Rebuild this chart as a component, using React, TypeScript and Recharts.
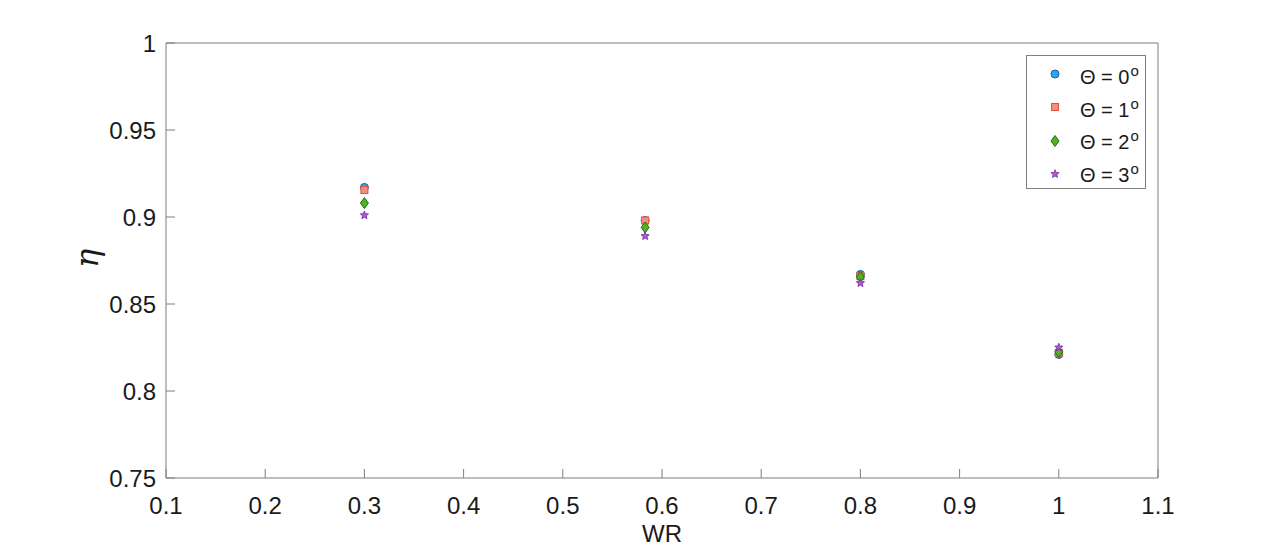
import { ScatterChart, Scatter, XAxis, YAxis, Text } from 'recharts'

const wr = [0.3, 0.583, 0.8, 1.0]
const eta0 = [0.917, 0.898, 0.867, 0.821]
const eta1 = [0.9155, 0.898, 0.866, 0.822]
const eta2 = [0.908, 0.894, 0.8655, 0.8225]
const eta3 = [0.901, 0.889, 0.862, 0.825]
const xTicks = [0.1, 0.2, 0.3, 0.4, 0.5, 0.6, 0.7, 0.8, 0.9, 1, 1.1]
const yTicks = [0.75, 0.8, 0.85, 0.9, 0.95, 1]
const angles = ['0', '1', '2', '3']

const AXIS = '#7f7f7f'
const TXT = '#1a1a1a'
const FONT = '"Liberation Sans", Arial, sans-serif'
const TL = 9

const toPts = (ys: number[]) => wr.map((x, i) => ({ x, y: ys[i] }))

const Circle = ({ cx, cy }: any) => <circle cx={cx} cy={cy} r={4} fill="#2ba6ec" stroke="#1b5f9e" strokeWidth={1} />
const Square = ({ cx, cy }: any) => <rect x={cx - 3.5} y={cy - 3.5} width={7} height={7} fill="#f88c7a" stroke="#e0553a" strokeWidth={1} />
const Diamond = ({ cx, cy }: any) => (
  <polygon points={`${cx},${cy - 5.5} ${cx + 4},${cy} ${cx},${cy + 5.5} ${cx - 4},${cy}`} fill="#4fb324" stroke="#1f6e12" strokeWidth={1} />
)
const Star = ({ cx, cy }: any) => {
  const pts: string[] = []
  for (let k = 0; k < 10; k++) {
    const r = k % 2 === 0 ? 4.3 : 1.9
    const a = -Math.PI / 2 + (k * Math.PI) / 5
    pts.push(`${cx + r * Math.cos(a)},${cy + r * Math.sin(a)}`)
  }
  return <polygon points={pts.join(' ')} fill="#b556d6" stroke="#6d2a9a" strokeWidth={0.8} />
}

const series = [
  { name: '0', data: toPts(eta0), shape: Circle },
  { name: '1', data: toPts(eta1), shape: Square },
  { name: '2', data: toPts(eta2), shape: Diamond },
  { name: '3', data: toPts(eta3), shape: Star },
]

const BottomTick = ({ x, y, payload }: any) => (
  <g>
    <line x1={x} y1={y} x2={x} y2={y - TL} stroke={AXIS} />
    <text x={x} y={y + 36} textAnchor="middle" fill={TXT} fontSize={24} fontFamily={FONT}>{payload.value}</text>
  </g>
)
const TopTick = ({ x, y }: any) => <line x1={x} y1={y} x2={x} y2={y + TL} stroke={AXIS} />
const LeftTick = ({ x, y, payload }: any) => (
  <g>
    <line x1={x} y1={y} x2={x + TL} y2={y} stroke={AXIS} />
    <text x={x - 10} y={y + 8.5} textAnchor="end" fill={TXT} fontSize={24} fontFamily={FONT}>{payload.value}</text>
  </g>
)
const RightTick = ({ x, y }: any) => <line x1={x} y1={y} x2={x - TL} y2={y} stroke={AXIS} />

const EtaLabel = ({ viewBox }: any) => {
  const cx = viewBox.x - 78
  const cy = viewBox.y + viewBox.height / 2 - 2
  return (
    <Text x={cx} y={cy} angle={-90} textAnchor="middle" verticalAnchor="middle"
      fill={TXT} fontSize={32} fontStyle="italic" fontFamily='"DejaVu Serif", serif'>{'\u03b7'}</Text>
  )
}

const LegendBox = () => (
  <div style={{ position: 'absolute', left: 1026, top: 55, width: 118, height: 132, border: `1px solid ${AXIS}`, background: '#fff', fontFamily: FONT, fontSize: 20, color: TXT }}>
    {angles.map((a, i) => {
      const Shape = series[i].shape
      return (
        <div key={a}>
          <svg width={20} height={20} style={{ position: 'absolute', left: 18, top: 8 + i * 33.3 }}>
            <Shape cx={10} cy={10} />
          </svg>
          <div style={{ position: 'absolute', left: 53, top: 10 + i * 32.5, lineHeight: '22px', whiteSpace: 'nowrap' }}>
            {'\u0398 = '}{a}<span style={{ fontSize: 15, position: 'relative', top: -8, marginLeft: 1 }}>o</span>
          </div>
        </div>
      )
    })}
  </div>
)

export default function App() {
  return (
    <div style={{ position: 'absolute', left: 0, top: 0, width: 1280, height: 556, background: '#fff' }}>
      <ScatterChart width={1280} height={556} margin={{ top: 42, right: 121, bottom: 77, left: 165 }}>
        <XAxis
          xAxisId="b" type="number" dataKey="x" domain={[0.1, 1.1]} ticks={xTicks} height={1}
          tickSize={0} tickMargin={0} tick={<BottomTick />} tickLine={false} axisLine={{ stroke: AXIS }}
          interval={0} allowDataOverflow
          label={{ value: 'WR', position: 'bottom', offset: 46, fill: TXT, fontSize: 24, fontFamily: FONT }}
        />
        <XAxis
          xAxisId="t" orientation="top" type="number" dataKey="x" domain={[0.1, 1.1]} ticks={xTicks} height={1}
          tickSize={0} tickMargin={0} tick={<TopTick />} tickLine={false} axisLine={{ stroke: AXIS }} interval={0}
        />
        <YAxis
          yAxisId="l" type="number" dataKey="y" domain={[0.75, 1]} ticks={yTicks} width={1}
          tickSize={0} tickMargin={0} tick={<LeftTick />} tickLine={false} axisLine={{ stroke: AXIS }} interval={0}
          label={<EtaLabel />}
        />
        <YAxis
          yAxisId="r" orientation="right" type="number" dataKey="y" domain={[0.75, 1]} ticks={yTicks} width={1}
          tickSize={0} tickMargin={0} tick={<RightTick />} tickLine={false} axisLine={{ stroke: AXIS }} interval={0}
        />
        {series.map((s) => (
          <Scatter key={s.name} name={s.name} data={s.data} xAxisId="b" yAxisId="l" shape={s.shape} isAnimationActive={false} />
        ))}
      </ScatterChart>
      <LegendBox />
    </div>
  )
}
